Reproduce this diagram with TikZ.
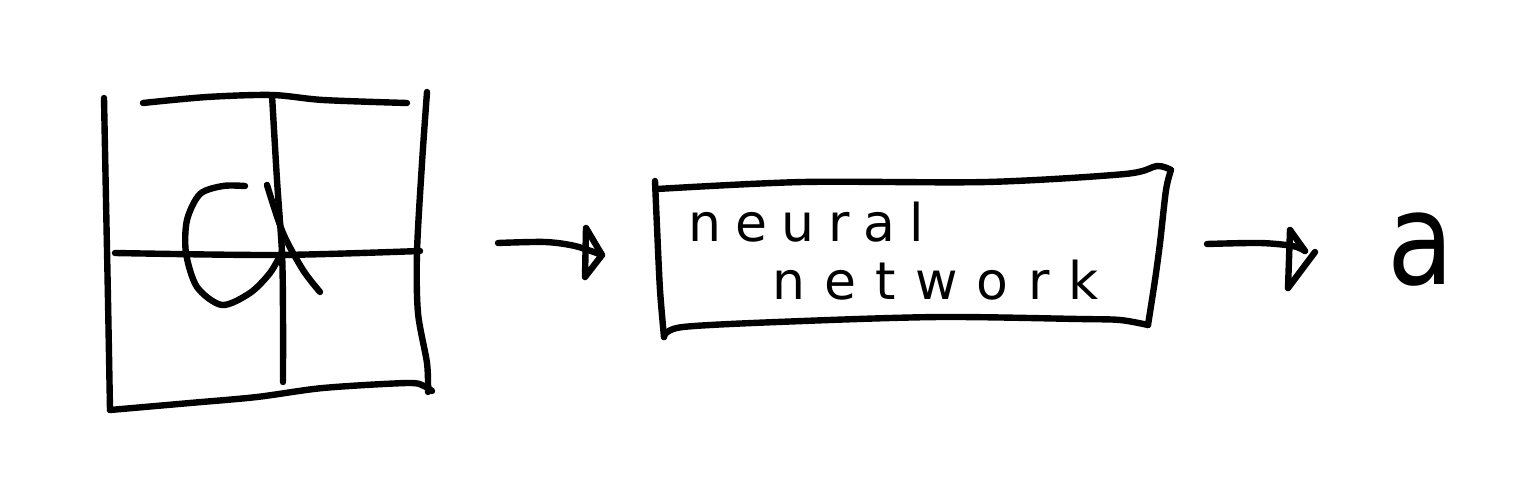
\documentclass[tikz,border=0pt]{standalone}
\usepackage{graphicx}
\usepackage{fontspec}
\newfontfamily\handA[LetterSpace=27]{DejaVu Sans}
\newfontfamily\handB[LetterSpace=37]{DejaVu Sans}
\newfontfamily\afont{DejaVu Sans}
\tikzset{
  ink/.style={line width=6.4pt, line cap=round, line join=round, black},
  txt/.style={anchor=base west, inner sep=0pt},
}
\begin{document}
\begin{tikzpicture}[x=1pt,y=-1pt]
\useasboundingbox (0,0) rectangle (1537,497);
% ---- grid with hand-drawn a ----
\draw[ink] plot[smooth] coordinates {(104,98) (106,200) (108,300) (110,410)};
\draw[ink] plot[smooth] coordinates {(143,103) (207,97) (272,95) (323,100) (407,103)};
\draw[ink] plot[smooth] coordinates {(272,95) (277,180) (282,253) (283,313) (283,382)};
\draw[ink] plot[smooth] coordinates {(427,92) (422,163) (417,252) (418,313) (427,363) (428,392)};
\draw[ink] plot[smooth] coordinates {(115,253) (277,255) (420,251)};
\draw[ink] plot[smooth] coordinates {(110,410) (190,403) (257,397) (323,388) (407,383) (424,386) (432,391)};
\draw[ink] plot[smooth] coordinates {(245,186) (223,186) (200,194) (187,220) (186,253) (197,287) (222,305) (250,293) (270,273) (282,252)};
\draw[ink] plot[smooth] coordinates {(267,185) (283,233) (303,270) (320,292)};
% ---- arrow 1 ----
\coordinate (a1s) at (498,243);
\coordinate (a1t) at (602,255);
\draw[ink] plot[smooth] coordinates {(a1s) (545,242) (575,246) (a1t)};
\draw[ink] (586,228) -- (585,277) -- (a1t) -- cycle;
% ---- box ----
\draw[ink] plot[smooth] coordinates {(655,181) (657,227) (660,290) (664,337)};
\draw[ink] plot[smooth] coordinates {(664,337) (683,327) (803,321) (941,317) (1079,319) (1120,320) (1148,325)};
\draw[ink] plot[smooth] coordinates {(1148,325) (1155,280) (1160,243) (1166,190) (1171,170)};
\draw[ink] plot[smooth] coordinates {(1171,170) (1157,166) (1125,174) (987,182) (803,182) (657,189)};
\node[txt, font=\handA\fontsize{52}{52}\selectfont] (nn1) at (688,242) {neural};
\node[txt, font=\handB\fontsize{52}{52}\selectfont] (nn2) at (772,299) {network};
% ---- arrow 2 ----
\coordinate (a2s) at (1207,244);
\coordinate (a2t) at (1305,251);
\draw[ink] plot[smooth] coordinates {(a2s) (1260,243) (1293,246) (a2t)};
\draw[ink] (1290,230) -- (1288,288);
\draw[ink] (1290,230) -- (a2t);
\draw[ink] (1315,252) -- (1288,288);
% ---- output ----
\node[anchor=base, inner sep=0pt, font=\afont\fontsize{128}{128}\selectfont] (out) at (1421,284) {\scalebox{0.85}[1]{a}};
\end{tikzpicture}
\end{document}
